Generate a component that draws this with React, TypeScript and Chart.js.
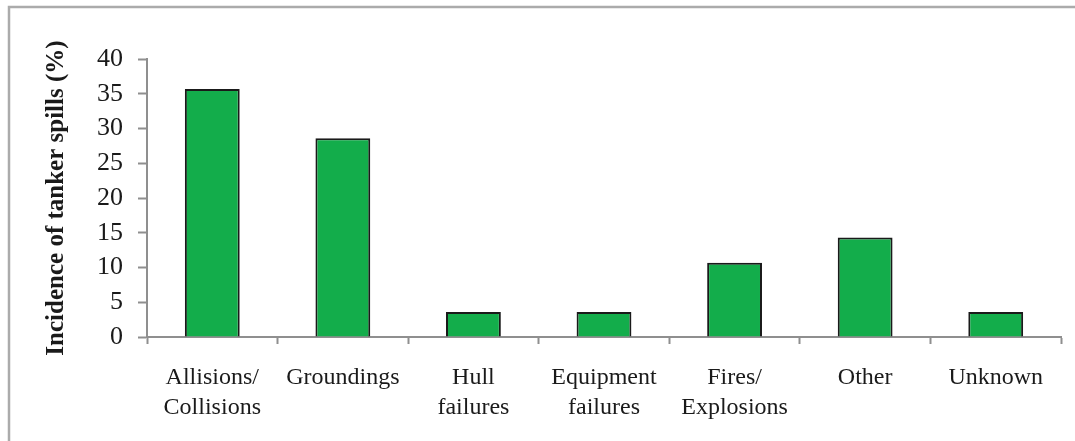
import React, { useEffect, useRef } from "react";
import { Chart, registerables } from "chart.js";

Chart.register(...registerables);

const categories: string[][] = [
  ["Allisions/", "Collisions"],
  ["Groundings"],
  ["Hull", "failures"],
  ["Equipment", "failures"],
  ["Fires/", "Explosions"],
  ["Other"],
  ["Unknown"],
];
const incidence: number[] = [35.7, 28.6, 3.6, 3.6, 10.7, 14.3, 3.6];
const yMin = 0;
const yMax = 40;
const yStep = 5;
const yTitle = "Incidence of tanker spills (%)";

const SERIF = "'Liberation Serif', 'Times New Roman', serif";

const framePlugin = {
  id: "frame",
  beforeDraw(chart: any) {
    const { ctx, width, height } = chart;
    ctx.save();
    ctx.fillStyle = "#ffffff";
    ctx.fillRect(0, 0, width, height);
    ctx.strokeStyle = "#ababab";
    ctx.lineWidth = 2.5;
    ctx.beginPath();
    ctx.moveTo(9, height);
    ctx.lineTo(9, 7);
    ctx.lineTo(width, 7);
    ctx.stroke();
    ctx.restore();
  },
};

export default function App() {
  const ref = useRef<HTMLCanvasElement>(null);

  useEffect(() => {
    if (!ref.current) return;
    const chart = new Chart(ref.current, {
      type: "bar",
      data: {
        labels: categories,
        datasets: [
          {
            data: incidence,
            backgroundColor: "#13ad4b",
            borderColor: "#1a1a1a",
            borderWidth: 2,
            barPercentage: 0.84,
            categoryPercentage: 0.5,
          },
        ],
      },
      options: {
        responsive: false,
        animation: false,
        devicePixelRatio: 1,
        layout: { padding: { left: 0, top: 59, right: 14, bottom: 0 } },
        plugins: {
          legend: { display: false },
          tooltip: { enabled: false },
          title: { display: false },
        },
        scales: {
          x: {
            afterFit: (s: any) => {
              s.height = 104;
            },
            grid: {
              display: true,
              offset: true,
              drawOnChartArea: false,
              drawTicks: true,
              tickLength: 7,
              tickWidth: 2,
              tickColor: "#8f8f8f",
            },
            border: { display: true, color: "#8f8f8f", width: 2 },
            ticks: {
              color: "#1a1a1a",
              font: { family: SERIF, size: 24, lineHeight: 1.23 },
              padding: 19,
              maxRotation: 0,
              autoSkip: false,
            },
          },
          y: {
            min: yMin,
            max: yMax,
            afterFit: (s: any) => {
              s.width = 147;
            },
            grid: {
              display: true,
              drawOnChartArea: false,
              drawTicks: true,
              tickLength: 9,
              tickWidth: 2,
              tickColor: "#8f8f8f",
            },
            border: { display: true, color: "#8f8f8f", width: 2 },
            ticks: {
              stepSize: yStep,
              color: "#1a1a1a",
              font: { family: SERIF, size: 26 },
              padding: 15,
            },
            title: {
              display: true,
              text: yTitle,
              color: "#1a1a1a",
              font: { family: SERIF, size: 25, weight: "bold" },
              padding: { top: 42, bottom: 0 },
            },
          },
        },
      },
      plugins: [framePlugin],
    });
    return () => chart.destroy();
  }, []);

  return (
    <div style={{ position: "absolute", left: 0, top: 0, width: 1075, height: 441 }}>
      <canvas ref={ref} width={1075} height={441} style={{ display: "block" }} />
    </div>
  );
}
